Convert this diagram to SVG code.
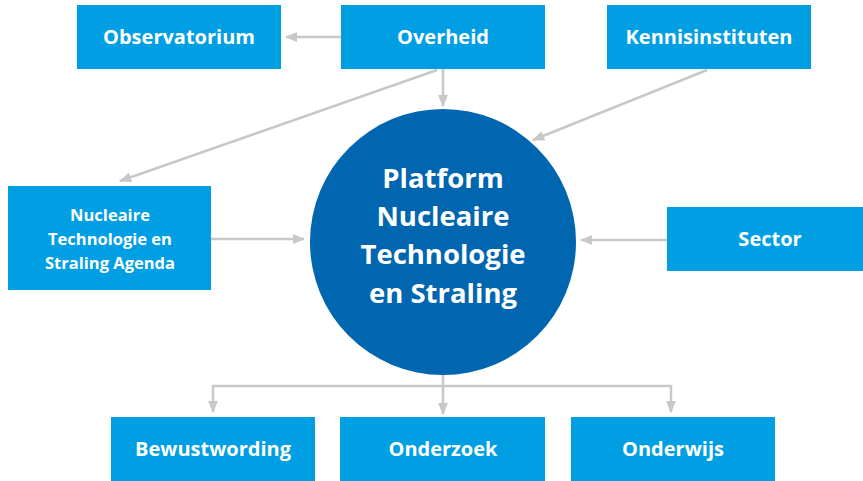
<svg xmlns="http://www.w3.org/2000/svg" width="863" height="481" viewBox="0 0 863 481">
<defs>
<marker id="ah" viewBox="0 0 10 10" refX="9" refY="5" markerWidth="5" markerHeight="5" orient="auto" markerUnits="strokeWidth">
<path d="M0,1 L10,5 L0,9 z" fill="#c8c8c8"/>
</marker>
<style>
.box{fill:#009fe3}
.t{fill:#fff;font-family:"Open Sans","Liberation Sans",sans-serif;font-weight:bold;font-size:20px;text-anchor:middle}
.ts{font-size:16.5px}
.tc{font-size:27.5px}
.c{stroke:#c8c8c8;stroke-width:2.5;fill:none}
.ca{marker-end:url(#ah)}
</style>
</defs>
<rect width="863" height="481" fill="#fff"/>
<g id="connectors">
<line class="c ca" x1="341" y1="37" x2="286" y2="37"/>
<line class="c ca" x1="443" y1="69" x2="443" y2="106"/>
<line class="c ca" x1="437" y1="70" x2="120" y2="181"/>
<line class="c ca" x1="707" y1="70" x2="533" y2="140"/>
<line class="c ca" x1="211" y1="239" x2="304" y2="239"/>
<line class="c ca" x1="667" y1="240" x2="581" y2="240"/>
<line class="c ca" x1="443" y1="375" x2="443" y2="414"/>
<polyline class="c ca" points="443,386 213,386 213,412"/>
<polyline class="c ca" points="443,386 671,386 671,412"/>
</g>
<g id="platform">
<circle cx="443" cy="242" r="133" fill="#0066b0"/>
<text class="t tc" x="443" y="188">Platform</text>
<text class="t tc" x="443" y="226">Nucleaire</text>
<text class="t tc" x="443" y="264">Technologie</text>
<text class="t tc" x="443" y="303">en Straling</text>
</g>
<g id="observatorium"><rect class="box" x="77" y="5" width="204" height="64"/><text class="t" x="179" y="44">Observatorium</text></g>
<g id="overheid"><rect class="box" x="341" y="5" width="204" height="64"/><text class="t" x="443" y="44">Overheid</text></g>
<g id="kennisinstituten"><rect class="box" x="607" y="5" width="204" height="64"/><text class="t" x="709" y="44">Kennisinstituten</text></g>
<g id="agenda"><rect class="box" x="8" y="186" width="203" height="104"/>
<text class="t ts" x="110" y="221">Nucleaire</text>
<text class="t ts" x="110" y="245">Technologie en</text>
<text class="t ts" x="110" y="269">Straling Agenda</text></g>
<g id="sector"><rect class="box" x="667" y="207" width="196" height="64"/><text class="t" x="770" y="246">Sector</text></g>
<g id="bewustwording"><rect class="box" x="111" y="417" width="204" height="64"/><text class="t" x="213" y="456">Bewustwording</text></g>
<g id="onderzoek"><rect class="box" x="340" y="417" width="205" height="64"/><text class="t" x="443" y="456">Onderzoek</text></g>
<g id="onderwijs"><rect class="box" x="571" y="417" width="204" height="64"/><text class="t" x="673" y="456">Onderwijs</text></g>
</svg>
